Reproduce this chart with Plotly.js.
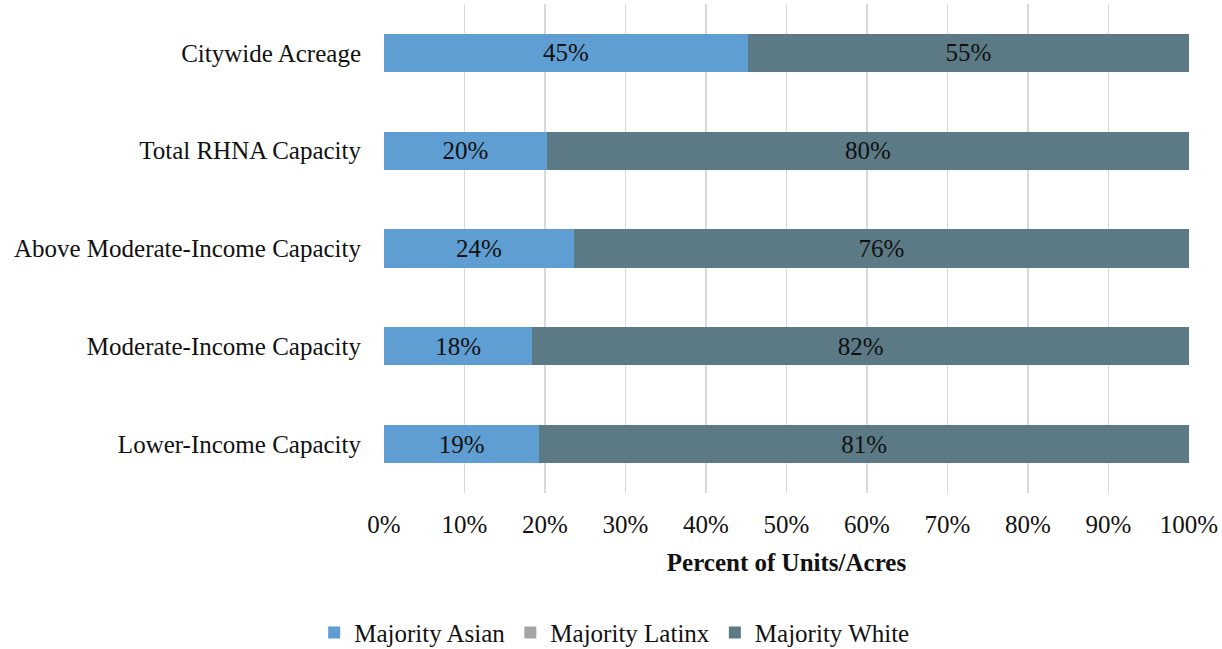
<!DOCTYPE html>
<html>
<head>
<meta charset="utf-8">
<script src="https://cdn.plot.ly/plotly-3.0.1.min.js"></script>
<style>html,body{margin:0;padding:0;background:#fff;}#chart{width:1222px;height:649px;}</style>
</head>
<body>
<div id="chart"></div>
<script>
const categories = ["Citywide Acreage", "Total RHNA Capacity", "Above Moderate-Income Capacity", "Moderate-Income Capacity", "Lower-Income Capacity"];
const majorityAsian = [45.2, 20.2, 23.6, 18.4, 19.3];
const majorityLatinx = [0, 0, 0, 0, 0];
const majorityWhite = [54.8, 79.8, 76.4, 81.6, 80.7];
const xTickVals = [0, 10, 20, 30, 40, 50, 60, 70, 80, 90, 100];
const xTickText = ["0%", "10%", "20%", "30%", "40%", "50%", "60%", "70%", "80%", "90%", "100%"];

const FONT = "Liberation Serif, Times New Roman, serif";
const FS = 25;

function series(name, values, color, showText) {
  return {
    type: "bar",
    orientation: "h",
    name: name,
    y: categories,
    x: values,
    marker: {color: color, line: {width: 0}},
    text: showText ? values.map(v => Math.round(v) + "%") : values.map(() => ""),
    textposition: "inside",
    insidetextanchor: "middle",
    textfont: {family: FONT, size: FS, color: "#111"},
    hoverinfo: "x+name",
    cliponaxis: false
  };
}

const data = [
  series("Majority Asian", majorityAsian, "#5f9ed2", true),
  series("Majority Latinx", majorityLatinx, "#a5a5a5", false),
  series("Majority White", majorityWhite, "#5b7a85", true)
];

const layout = {
  width: 1222,
  height: 649,
  margin: {l: 384, r: 33, t: 4, b: 156},
  barmode: "stack",
  bargap: 0.61,
  paper_bgcolor: "#fff",
  plot_bgcolor: "#fff",
  font: {family: FONT, size: FS, color: "#111"},
  showlegend: true,
  legend: {
    orientation: "h",
    x: 0.503, xref: "container", xanchor: "center",
    y: 0.025, yref: "container", yanchor: "middle",
    font: {family: FONT, size: FS, color: "#111"},
    traceorder: "normal",
    itemwidth: 30
  },
  uniformtext: {mode: false},
  xaxis: {
    range: [0, 100],
    tickvals: xTickVals,
    ticktext: xTickText,
    showgrid: true,
    gridcolor: "#d9d9d9",
    gridwidth: 1.6,
    zeroline: false,
    showline: false,
    ticks: "outside",
    ticklen: 9,
    tickcolor: "rgba(0,0,0,0)",
    tickfont: {family: FONT, size: FS, color: "#111"},
    title: {text: "<b>Percent of Units/Acres</b>", font: {family: FONT, size: FS, color: "#111"}, standoff: 16},
    automargin: false,
    fixedrange: true
  },
  yaxis: {
    autorange: "reversed",
    showgrid: false,
    zeroline: false,
    showline: false,
    ticks: "outside",
    ticklen: 17,
    tickcolor: "rgba(0,0,0,0)",
    tickfont: {family: FONT, size: FS, color: "#111"},
    automargin: false,
    fixedrange: true
  }
};

Plotly.newPlot("chart", data, layout, {displayModeBar: false, staticPlot: true});
</script>
</body>
</html>
